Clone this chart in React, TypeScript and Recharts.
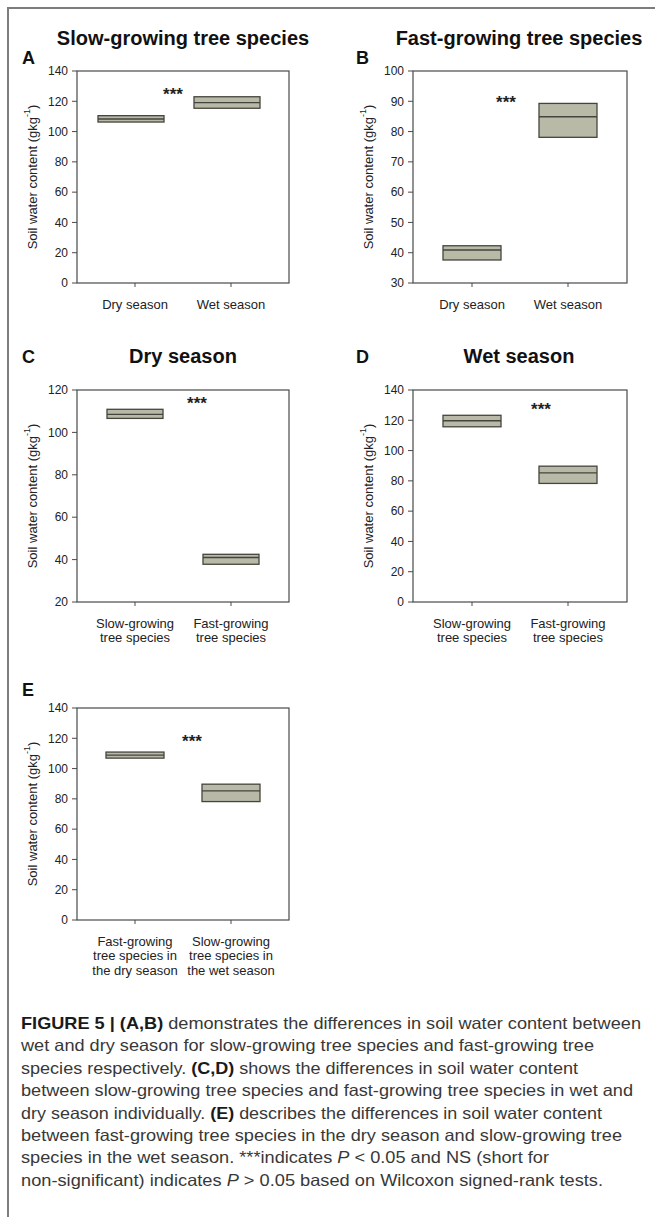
import React from "react"
import { Bar, ComposedChart, XAxis, YAxis } from "recharts"

const FONT = "'Liberation Sans', Arial, Helvetica, sans-serif"
const CAPTION_FONT = "'Liberation Sans', Arial, sans-serif"
const INK = "#222"
const AXIS = "#4a4a4a"
const BOX_FILL = "#b9b9a8"
const BOX_EDGE = "#45453e"

// y ticks
const ticks0to140 = [0, 20, 40, 60, 80, 100, 120, 140]
const ticks30to100 = [30, 40, 50, 60, 70, 80, 90, 100]
const ticks20to120 = [20, 40, 60, 80, 100, 120]

// A: slow-growing species, dry vs wet season
const seasonCats = ["Dry season", "Wet season"]
const slowLow = [106.3, 115.4]
const slowMed = [108.3, 119.1]
const slowHigh = [110.5, 123.0]

// B: fast-growing species, dry vs wet season
const fastLow = [37.6, 78.1]
const fastMed = [40.9, 84.9]
const fastHigh = [42.3, 89.3]

// C: dry season, slow vs fast
const speciesCats = ["Slow-growing\ntree species", "Fast-growing\ntree species"]
const dryLow = [106.6, 37.8]
const dryMed = [108.5, 41.0]
const dryHigh = [110.9, 42.5]

// D: wet season, slow vs fast
const wetLow = [115.7, 78.3]
const wetMed = [119.7, 85.3]
const wetHigh = [123.3, 89.7]

// E: cross comparison
const crossCats = [
  "Fast-growing\ntree species in\nthe dry season",
  "Slow-growing\ntree species in\nthe wet season",
]
const crossLow = [106.9, 78.2]
const crossMed = [108.9, 85.3]
const crossHigh = [110.9, 89.7]

type Seg = { t: string; b?: boolean; i?: boolean }
const captionLines: { segs: Seg[]; end: number }[] = [
  {
    segs: [
      { t: "FIGURE 5 | (A,B)", b: true },
      { t: " demonstrates the differences in soil water content between" },
    ],
    end: 641,
  },
  { segs: [{ t: "wet and dry season for slow-growing tree species and fast-growing tree" }], end: 594 },
  {
    segs: [
      { t: "species respectively. " },
      { t: "(C,D)", b: true },
      { t: " shows the differences in soil water content" },
    ],
    end: 578,
  },
  { segs: [{ t: "between slow-growing tree species and fast-growing tree species in wet and" }], end: 633 },
  {
    segs: [
      { t: "dry season individually. " },
      { t: "(E)", b: true },
      { t: " describes the differences in soil water content" },
    ],
    end: 602,
  },
  { segs: [{ t: "between fast-growing tree species in the dry season and slow-growing tree" }], end: 622 },
  {
    segs: [
      { t: "species in the wet season. ***indicates " },
      { t: "P", i: true },
      { t: " < 0.05 and NS (short for" },
    ],
    end: 549,
  },
  {
    segs: [
      { t: "non-significant) indicates " },
      { t: "P", i: true },
      { t: " > 0.05 based on Wilcoxon signed-rank tests." },
    ],
    end: 603,
  },
]

const boxShape = (shift: number) => (p: any) => {
  const { x, y, width, height, payload } = p
  const [lo, hi] = payload.range
  const top = Math.min(y, y + height)
  const h = Math.abs(height)
  const my = top + (h * (hi - payload.med)) / (hi - lo)
  return (
    <g>
      <rect x={x + shift} y={top} width={width} height={h} fill={BOX_FILL} stroke={BOX_EDGE} strokeWidth={1.3} />
      <line x1={x + shift} x2={x + shift + width} y1={my} y2={my} stroke={BOX_EDGE} strokeWidth={1.3} />
    </g>
  )
}

const XTick = (p: any) => {
  const { x, y, payload } = p
  const lines = String(payload.value).split("\n")
  return (
    <text x={x} y={y} textAnchor="middle" fontSize={13} fill={INK} fontFamily={FONT}>
      {lines.map((l, i) => (
        <tspan key={i} x={x} dy={i === 0 ? 19.5 : 14.5}>
          {l}
        </tspan>
      ))}
    </text>
  )
}

type PanelProps = {
  x: number
  y: number
  w: number
  h: number
  cats: string[]
  lows: number[]
  meds: number[]
  highs: number[]
  domain: [number, number]
  ticks: number[]
  barSize: number
  shift?: number
  title?: string
  titleX?: number
  titleY?: number
  letter: string
  letterX: number
  letterY: number
  starDx: number
  starDy: number
}

function Panel(props: PanelProps) {
  const { x, y, w, h, cats, lows, meds, highs, domain, ticks, barSize, shift = 0 } = props
  const data = cats.map((c, i) => ({ cat: c, range: [lows[i], highs[i]], med: meds[i] }))
  const pad = (w - 192) / 2
  return (
    <>
      <div style={{ position: "absolute", left: x - 70, top: y - 10 }}>
        <ComposedChart
          width={w + 80}
          height={h + 80}
          data={data}
          margin={{ top: 10, right: 10, bottom: 10, left: 0 }}
        >
          <XAxis
            dataKey="cat"
            type="category"
            height={60}
            padding={{ left: pad, right: pad }}
            axisLine={false}
            tickLine={{ stroke: AXIS }}
            tickSize={4}
            interval={0}
            tick={<XTick />}
          />
          <YAxis
            type="number"
            width={70}
            domain={domain}
            ticks={ticks}
            interval={0}
            allowDataOverflow
            axisLine={false}
            tickLine={{ stroke: AXIS }}
            tickSize={5}
            tickMargin={4}
            tick={{ fontSize: 12, fill: INK, fontFamily: FONT }}
          />
          <Bar dataKey="range" barSize={barSize} shape={boxShape(shift)} isAnimationActive={false} />
        </ComposedChart>
      </div>
      <svg
        width={655}
        height={1217}
        style={{ position: "absolute", left: 0, top: 0, pointerEvents: "none" }}
      >
        <rect x={x} y={y} width={w} height={h} fill="none" stroke={AXIS} strokeWidth={1.2} />
        <text
          transform={`translate(${x - 45}, ${y + h / 2}) rotate(-90)`}
          textAnchor="middle"
          dominantBaseline="central"
          fontSize={13}
          fill={INK}
          fontFamily={FONT}
        >
          Soil water content (gkg
          <tspan dy={-5} fontSize={9}>
            -1
          </tspan>
          <tspan dy={5}>)</tspan>
        </text>
        <text
          x={x + props.starDx}
          y={y + props.starDy + 10}
          textAnchor="middle"
          fontSize={17}
          fontWeight="bold"
          fill={INK}
          fontFamily={FONT}
        >
          ***
        </text>
        {props.title && (
          <text
            x={props.titleX}
            y={props.titleY}
            textAnchor="middle"
            fontSize={20}
            fontWeight="bold"
            fill="#111"
            fontFamily={FONT}
          >
            {props.title}
          </text>
        )}
        <text x={props.letterX} y={props.letterY} fontSize={18} fontWeight="bold" fill="#111" fontFamily={FONT}>
          {props.letter}
        </text>
      </svg>
    </>
  )
}

export default function App() {
  return (
    <div
      style={{
        position: "absolute",
        left: 0,
        top: 0,
        width: 655,
        height: 1217,
        background: "#fff",
        overflow: "hidden",
      }}
    >
      <div
        style={{
          position: "absolute",
          left: 7,
          top: 7,
          width: 648,
          height: 1210,
          borderTop: "2px solid #7d7d7d",
          borderLeft: "2px solid #7d7d7d",
        }}
      />
      <Panel
        x={77} y={71} w={212} h={212}
        cats={seasonCats} lows={slowLow} meds={slowMed} highs={slowHigh}
        domain={[0, 140]} ticks={ticks0to140} barSize={66} shift={-4}
        title="Slow-growing tree species" titleX={183} titleY={45}
        letter="A" letterX={22} letterY={64}
        starDx={96} starDy={19}
      />
      <Panel
        x={413} y={71} w={214} h={212}
        cats={seasonCats} lows={fastLow} meds={fastMed} highs={fastHigh}
        domain={[30, 100]} ticks={ticks30to100} barSize={58}
        title="Fast-growing tree species" titleX={519} titleY={45}
        letter="B" letterX={356} letterY={64}
        starDx={93} starDy={27}
      />
      <Panel
        x={77} y={390} w={212} h={212}
        cats={speciesCats} lows={dryLow} meds={dryMed} highs={dryHigh}
        domain={[20, 120]} ticks={ticks20to120} barSize={56}
        title="Dry season" titleX={183} titleY={363}
        letter="C" letterX={22} letterY={363}
        starDx={120} starDy={9}
      />
      <Panel
        x={413} y={390} w={214} h={212}
        cats={speciesCats} lows={wetLow} meds={wetMed} highs={wetHigh}
        domain={[0, 140]} ticks={ticks0to140} barSize={58}
        title="Wet season" titleX={519} titleY={363}
        letter="D" letterX={356} letterY={363}
        starDx={128} starDy={15}
      />
      <Panel
        x={77} y={708} w={212} h={212}
        cats={crossCats} lows={crossLow} meds={crossMed} highs={crossHigh}
        domain={[0, 140]} ticks={ticks0to140} barSize={58}
        letter="E" letterX={22} letterY={696}
        starDx={115} starDy={29}
      />
      <svg width={655} height={1217} style={{ position: "absolute", left: 0, top: 0 }}>
        {captionLines.map((line, i) => (
          <text
            key={i}
            x={21}
            y={1029 + i * 22.4}
            fontSize={16.5}
            fill="#383838"
            fontFamily={CAPTION_FONT}
            textLength={line.end - 21}
            lengthAdjust="spacingAndGlyphs"
          >
            {line.segs.map((s, j) => (
              <tspan
                key={j}
                fontWeight={s.b ? 700 : 400}
                fontStyle={s.i ? "italic" : "normal"}
                fill={s.b ? "#1a1a1a" : "#383838"}
              >
                {s.t}
              </tspan>
            ))}
          </text>
        ))}
      </svg>
    </div>
  )
}
